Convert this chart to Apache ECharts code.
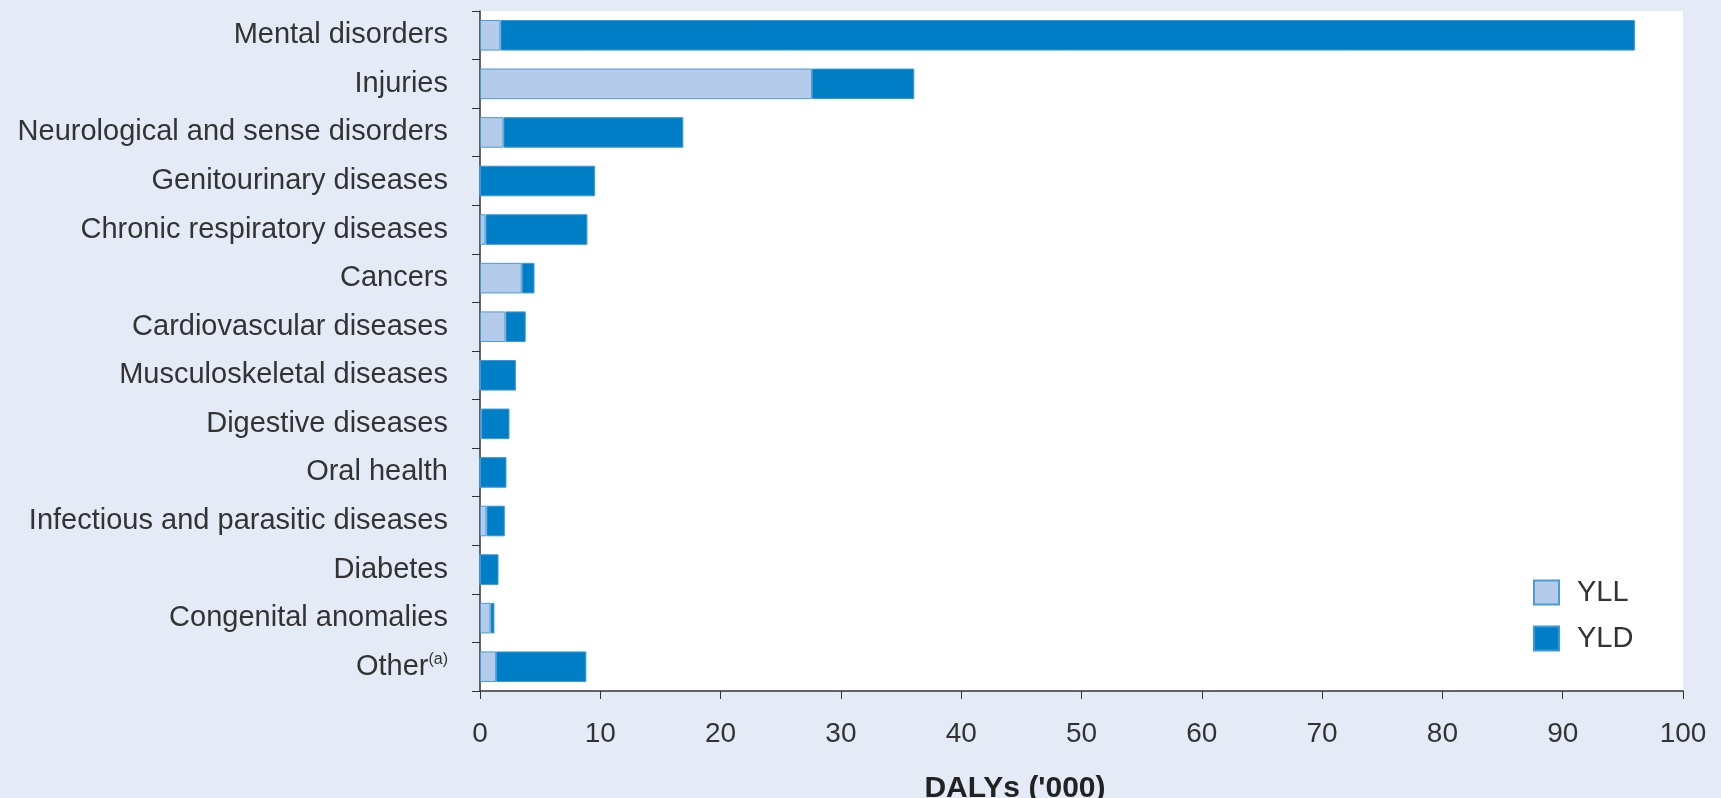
<!DOCTYPE html>
<html>
<head>
<meta charset="utf-8">
<script src="https://cdn.jsdelivr.net/npm/echarts@6/dist/echarts.min.js"></script>
<style>
html,body{margin:0;padding:0;background:#E4EBF6;}
#chart{width:1721px;height:798px;}
</style>
</head>
<body>
<div id="chart"></div>
<script>
const categories = [
  'Mental disorders',
  'Injuries',
  'Neurological and sense disorders',
  'Genitourinary diseases',
  'Chronic respiratory diseases',
  'Cancers',
  'Cardiovascular diseases',
  'Musculoskeletal diseases',
  'Digestive diseases',
  'Oral health',
  'Infectious and parasitic diseases',
  'Diabetes',
  'Congenital anomalies',
  'Other{sup|(a)}'
];
const yll = [1.7, 27.6, 1.95, 0, 0.46, 3.47, 2.12, 0, 0.1, 0, 0.54, 0, 0.87, 1.34];
const yld = [94.3, 8.5, 14.95, 9.57, 8.47, 1.06, 1.68, 2.98, 2.35, 2.2, 1.52, 1.54, 0.33, 7.5];
const xTicks = { min: 0, max: 100, interval: 10 };
const axisTitle = "DALYs ('000)";

const fontFamily = "'Liberation Sans', Arial, sans-serif";
const chart = echarts.init(document.getElementById('chart'));
chart.setOption({
  backgroundColor: '#E4EBF6',
  animation: false,
  textStyle: { fontFamily: fontFamily },
  title: {
    text: axisTitle,
    left: 1015,
    top: 774,
    textAlign: 'center',
    padding: 0,
    textStyle: { fontFamily: fontFamily, fontSize: 30, fontWeight: 'bold', color: '#222' }
  },
  legend: {
    orient: 'vertical',
    left: 1528,
    top: 573,
    itemWidth: 25,
    itemHeight: 24,
    itemGap: 17,
    icon: 'rect',
    textStyle: { fontFamily: fontFamily, fontSize: 29, color: '#333', padding: [0, 0, 0, 13] },
    data: ['YLL', 'YLD']
  },
  grid: {
    left: 480,
    right: 38,
    top: 11,
    bottom: 107,
    show: true,
    backgroundColor: '#ffffff',
    borderWidth: 0,
    containLabel: false
  },
  xAxis: {
    type: 'value',
    min: xTicks.min,
    max: xTicks.max,
    interval: xTicks.interval,
    splitLine: { show: false },
    axisLine: { show: true, lineStyle: { color: '#333', width: 1.5 } },
    axisTick: { show: true, length: 8, lineStyle: { color: '#333', width: 1 } },
    axisLabel: { margin: 29, fontSize: 28, color: '#333', fontFamily: fontFamily }
  },
  yAxis: {
    type: 'category',
    inverse: true,
    data: categories,
    axisLine: { show: true, lineStyle: { color: '#333', width: 1.5 } },
    axisTick: { show: true, length: 8, lineStyle: { color: '#333', width: 1 } },
    axisLabel: {
      margin: 32,
      fontSize: 29,
      color: '#333',
      fontFamily: fontFamily,
      rich: {
        sup: { fontSize: 16, verticalAlign: 'top', padding: [0, 0, 14, 0], color: '#333', fontFamily: fontFamily }
      }
    }
  },
  series: [
    {
      name: 'YLL',
      type: 'bar',
      stack: 'total',
      barCategoryGap: '37%',
      data: yll,
      itemStyle: { color: '#B4CBE9', borderColor: '#4A9BD8', borderWidth: 1 }
    },
    {
      name: 'YLD',
      type: 'bar',
      stack: 'total',
      barCategoryGap: '37%',
      data: yld,
      itemStyle: { color: '#007EC6', borderColor: '#3C97D8', borderWidth: 1 }
    }
  ]
});
</script>
</body>
</html>
